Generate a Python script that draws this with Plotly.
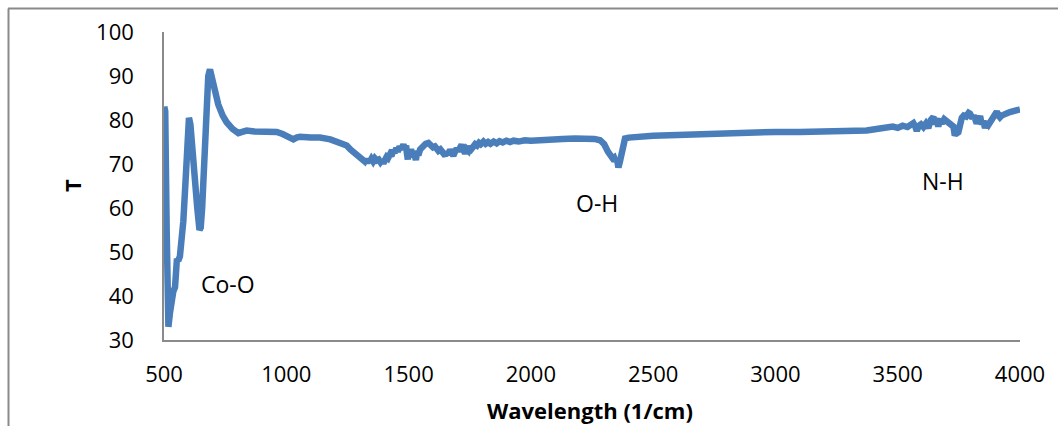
import plotly.graph_objects as go

# Spectrum values
wavenumber = [500, 501, 505, 511, 518, 524, 531, 538, 545, 550, 553, 558, 565, 572, 579, 590,
              602, 608, 614, 625, 636, 645, 650, 656, 664, 674, 681, 688, 694, 702, 712, 722,
              740, 756, 780, 804, 820, 838, 870, 900, 930, 961, 985, 1002, 1015, 1029, 1042,
              1056, 1100, 1138, 1180, 1220, 1247, 1262, 1280, 1300, 1315, 1320, 1325, 1329,
              1335, 1340, 1348, 1355, 1362, 1370, 1378, 1385, 1392, 1397, 1404, 1410, 1416,
              1424, 1430, 1437, 1443, 1450, 1456, 1463, 1470, 1479, 1485, 1490, 1493, 1497,
              1500, 1505, 1510, 1515, 1520, 1525, 1530, 1535, 1540, 1547, 1555, 1562, 1570,
              1581, 1590, 1600, 1608, 1615, 1622, 1630, 1638, 1645, 1650, 1656, 1662, 1670,
              1676, 1683, 1690, 1697, 1703, 1710, 1717, 1722, 1727, 1731, 1738, 1745, 1752,
              1758, 1765, 1772, 1780, 1788, 1795, 1806, 1815, 1825, 1835, 1848, 1860, 1872,
              1885, 1900, 1915, 1929, 1950, 1975, 2000, 2037, 2080, 2130, 2180, 2228, 2260,
              2283, 2300, 2315, 2324, 2334, 2340, 2346, 2352, 2358, 2364, 2370, 2376, 2385,
              2400, 2446, 2500, 2600, 2692, 2800, 2900, 3000, 3100, 3200, 3305, 3373, 3420,
              3455, 3480, 3500, 3520, 3540, 3555, 3564, 3572, 3578, 3585, 3595, 3605, 3615,
              3625, 3635, 3646, 3652, 3660, 3666, 3672, 3680, 3690, 3700, 3710, 3720, 3728,
              3732, 3740, 3748, 3755, 3762, 3770, 3780, 3790, 3796, 3805, 3812, 3823, 3830,
              3837, 3843, 3850, 3857, 3865, 3872, 3880, 3890, 3898, 3905, 3912, 3918, 3925,
              3935, 3945, 3959, 3975, 3990, 4000]
transmittance = [67, 83, 82, 55, 33, 36, 40, 41, 42, 46, 48.5, 48, 49, 53, 57, 68,
                 80.5, 79, 74, 67, 60, 55, 55.5, 60, 72, 84, 90, 91.5, 90, 87, 85, 83.5,
                 81, 79.5, 78, 77, 77.3, 77.6, 77.4, 77.3, 77.2, 77.3, 76.8, 76.2, 75.7, 75.6, 76.0,
                 76.2, 76.0, 76.0, 75.6, 74.9, 74.2, 73.3, 72.5, 71.6, 70.9, 70.6, 71.2, 70.2,
                 71.0, 70.4, 71.2, 70.6, 71.3, 70.8, 71.0, 70.4, 70.9, 70.1, 71.0, 71.6, 71.3,
                 72.2, 71.8, 73.2, 72.5, 73.6, 72.8, 74.0, 73.4, 74.4, 73.6, 74.2, 72.5, 71.0,
                 73.0, 72.0, 73.4, 71.5, 73.0, 72.0, 70.9, 73.0, 72.0, 73.3, 73.8, 74.5, 74.6,
                 74.8, 74.2, 73.8, 74.0, 73.4, 73.0, 73.3, 72.6, 72.2, 71.9, 72.8, 72.2, 73.2,
                 72.3, 71.9, 72.8, 73.5, 72.9, 73.8, 74.4, 73.5, 72.8, 72.4, 73.4, 73.0, 74.0,
                 73.5, 74.0, 74.5, 74.2, 74.8, 74.5, 75.1, 74.6, 75.0, 74.6, 75.1, 74.7, 75.2,
                 74.9, 75.3, 75.0, 75.3, 75.1, 75.4, 75.3, 75.5, 75.5, 75.7, 75.8, 75.8, 75.7,
                 75.4, 74.5, 72.8, 71.8, 71.3, 71.5, 70.6, 71.2, 69.2, 70.5, 72.0, 74.5, 75.8,
                 76.0, 76.3, 76.4, 76.6, 76.8, 77.0, 77.2, 77.3, 77.3, 77.3, 77.4, 77.6, 78.0,
                 78.4, 78.5, 78.2, 78.7, 78.4, 79.0, 79.3, 78.5, 77.5, 78.6, 79.0, 78.4, 79.2,
                 78.2, 80.0, 80.7, 79.0, 80.4, 78.5, 80.2, 79.2, 80.2, 79.8, 79.5, 79.2, 78.5,
                 77.0, 76.9, 77.2, 79.5, 80.5, 81.0, 80.8, 81.6, 81.4, 80.4, 81.0, 79.2, 80.4,
                 80.9, 79.0, 79.8, 78.2, 79.6, 79.0, 79.8, 80.2, 81.0, 81.9, 81.0, 80.6, 81.0,
                 81.4, 81.5, 81.8, 82.0, 82.3, 82.4]

x_ticks = [500, 1000, 1500, 2000, 2500, 3000, 3500, 4000]
y_ticks = [30, 40, 50, 60, 70, 80, 90, 100]

band_labels = ["Co-O", "O-H", "N-H"]
band_x = [762, 2270, 3685]
band_y = [42.7, 61.1, 66.1]

W, H = 1058, 426
ML, MR, MT, MB = 164, 38, 32, 86
pw, ph = W - ML - MR, H - MT - MB


def px_to_paper_x(px):
    return (px - ML) / pw


def px_to_paper_y(py):
    return (H - MB - py) / ph


FONT = "Open Sans"

fig = go.Figure()
fig.add_trace(go.Scatter(
    x=wavenumber, y=transmittance, mode="lines",
    line=dict(color="#4a7ebb", width=6.5, shape="linear"),
    showlegend=False, hoverinfo="x+y",
))

for t, bx, by in zip(band_labels, band_x, band_y):
    fig.add_annotation(x=bx, y=by, text=t, showarrow=False,
                       font=dict(family=FONT, size=23, color="#000000"),
                       xanchor="center", yanchor="middle")

# axis titles
fig.add_annotation(xref="paper", yref="paper", x=px_to_paper_x(590), y=px_to_paper_y(410),
                   text="<b>Wavelength (1/cm)</b>", showarrow=False,
                   font=dict(family=FONT, size=22, color="#000000"),
                   xanchor="center", yanchor="middle")
fig.add_annotation(xref="paper", yref="paper", x=px_to_paper_x(72), y=px_to_paper_y(186),
                   text="<b>T</b>", showarrow=False, textangle=-90,
                   font=dict(family=FONT, size=22, color="#000000"),
                   xanchor="center", yanchor="middle")

# outer chart border (top and left edges visible)
border = dict(color="#8a8a8a", width=2)
fig.add_shape(type="line", xref="paper", yref="paper",
              x0=px_to_paper_x(8), y0=px_to_paper_y(8.5),
              x1=px_to_paper_x(W + 5), y1=px_to_paper_y(8.5), line=border)
fig.add_shape(type="line", xref="paper", yref="paper",
              x0=px_to_paper_x(8.5), y0=px_to_paper_y(8.5),
              x1=px_to_paper_x(8.5), y1=px_to_paper_y(H + 5), line=border)

fig.update_layout(
    width=W, height=H,
    margin=dict(l=ML, r=MR, t=MT, b=MB, autoexpand=False),
    paper_bgcolor="white", plot_bgcolor="white",
    font=dict(family=FONT, color="#000000"),
    xaxis=dict(range=[500, 4000], tickvals=x_ticks, ticktext=[str(v) for v in x_ticks],
               showgrid=False, zeroline=False, showline=True, linecolor="#8a8a8a",
               linewidth=1.5, ticks="", ticklabelstandoff=14,
               tickfont=dict(family=FONT, size=22, color="#000000")),
    yaxis=dict(range=[30, 100], tickvals=y_ticks, ticktext=[str(v) for v in y_ticks],
               showgrid=False, zeroline=False, showline=True, linecolor="#8a8a8a",
               linewidth=1.5, ticks="", ticklabelstandoff=24,
               tickfont=dict(family=FONT, size=22, color="#000000")),
)

fig.write_html("out.html")
